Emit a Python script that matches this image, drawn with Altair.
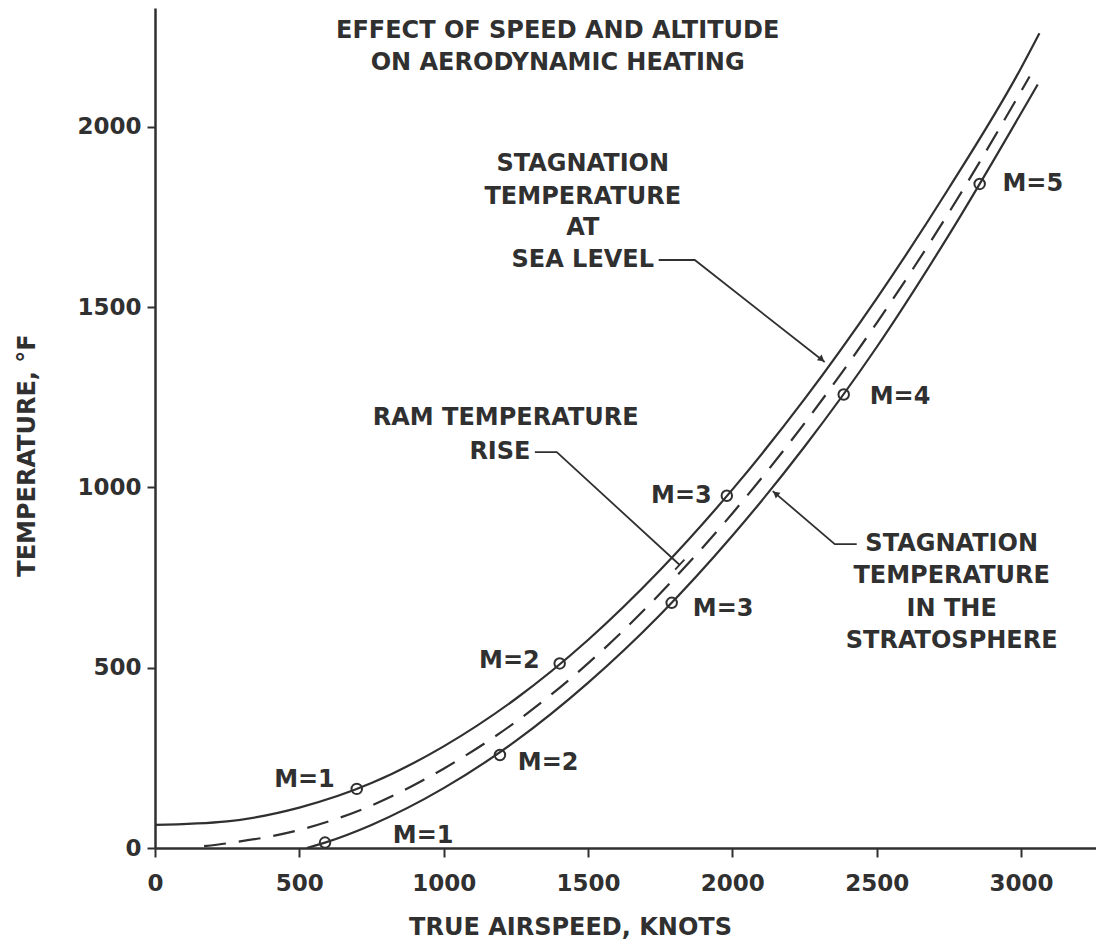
import altair as alt
import pandas as pd

# ---- data ----
sea_x = [0, 250, 500, 750, 1000, 1250, 1500, 1750, 2000, 2250, 2500, 2750, 3000, 3064]
sea_y = [64, 74, 112, 180, 282, 414, 577, 771, 994, 1245, 1524, 1830, 2163, 2260]

ram_x = [170, 250, 500, 750, 1000, 1250, 1500, 1750, 2000, 2250, 2500, 2750, 3030]
ram_y = [5, 13, 50, 118, 220, 350, 512, 706, 928, 1178, 1456, 1762, 2140]

strat_x = [526, 589, 750, 1000, 1250, 1500, 1750, 2000, 2250, 2500, 2750, 3058]
strat_y = [0, 15, 64, 166, 297, 458, 647, 866, 1113, 1389, 1700, 2118]

mach_x = [699, 1402, 1981, 589, 1195, 1790, 2386, 2857]
mach_y = [164, 512, 977, 15, 258, 680, 1258, 1842]

# Mach labels: right-aligned ones (left of the circle) and left-aligned ones
mlabR_text = ["M=1", "M=2", "M=3"]
mlabR_x = [623, 1333, 1929]
mlabR_y = [189, 519, 976]
mlabL_text = ["M=1", "M=2", "M=3", "M=4", "M=5"]
mlabL_x = [824, 1257, 1863, 2476, 2936]
mlabL_y = [33, 236, 663, 1251, 1842]

# annotation text lines (centered)
ann_text = ["EFFECT OF SPEED AND ALTITUDE", "ON AERODYNAMIC HEATING",
            "STAGNATION", "TEMPERATURE", "AT", "SEA LEVEL",
            "RAM TEMPERATURE", "RISE",
            "STAGNATION", "TEMPERATURE", "IN THE", "STRATOSPHERE"]
ann_x = [1395, 1395,
         1482, 1482, 1482, 1482,
         1215, 1195,
         2760, 2760, 2760, 2760]
ann_y = [2266, 2178,
         1898, 1806, 1720, 1631,
         1193, 1098,
         843, 755, 663, 574]

# leader lines
lead_sea_x = [1745, 1870, 2320]
lead_sea_y = [1631, 1631, 1348]
lead_ram_x = [1316, 1392, 1818]
lead_ram_y = [1098, 1098, 785]
lead_ram_bar_x = [1802, 1834]
lead_ram_bar_y = [772, 800]
lead_str_x = [2431, 2355, 2140]
lead_str_y = [843, 843, 990]
arrow_sea = (2310, 1355)
arrow_str = (2150, 983)

x_ticks = [0, 500, 1000, 1500, 2000, 2500, 3000]
y_ticks = [0, 500, 1000, 1500, 2000]

INK = "#303030"
FONT = "DejaVu Sans"

xs = alt.Scale(domain=[0, 3260], nice=False, zero=False)
ys = alt.Scale(domain=[0, 2330], nice=False, zero=False)

X = alt.X("x:Q", scale=xs, axis=alt.Axis(
    values=x_ticks, format="d", title="TRUE AIRSPEED, KNOTS", grid=False,
    labelFontSize=23, labelPadding=15, tickSize=9, tickWidth=2,
    domainWidth=2.5, domainColor=INK, tickColor=INK, labelColor=INK,
    titleColor=INK, labelFont=FONT, titleFont=FONT, labelFontWeight="bold",
    titleFontWeight="bold", titleFontSize=24, titleX=415, titleY=79,
    titleBaseline="middle", titleAlign="center", labelFlush=False))
Y = alt.Y("y:Q", scale=ys, axis=alt.Axis(
    values=y_ticks, format="d", title="TEMPERATURE, °F", grid=False,
    labelFontSize=23, labelPadding=6, tickSize=8, tickWidth=2,
    domainWidth=2.5, domainColor=INK, tickColor=INK, labelColor=INK,
    titleColor=INK, labelFont=FONT, titleFont=FONT, labelFontWeight="bold",
    titleFontWeight="bold", titleFontSize=24, titleX=-128, titleY=447,
    titleBaseline="middle", titleAlign="center", titleAngle=270,
    labelFlush=False))


def df(xv, yv, **extra):
    d = {"x": xv, "y": yv}
    d.update(extra)
    return pd.DataFrame(d)


sea = alt.Chart(df(sea_x, sea_y)).mark_line(
    color=INK, strokeWidth=2.2, interpolate="monotone").encode(x=X, y=Y)
ram = alt.Chart(df(ram_x, ram_y)).mark_line(
    color=INK, strokeWidth=2.2, strokeDash=[22, 13], interpolate="monotone").encode(x=X, y=Y)
strat = alt.Chart(df(strat_x, strat_y)).mark_line(
    color=INK, strokeWidth=2.2, interpolate="monotone").encode(x=X, y=Y)

mach = alt.Chart(df(mach_x, mach_y)).mark_point(
    shape="circle", filled=False, color=INK, size=110, strokeWidth=2, opacity=1).encode(x=X, y=Y)

txt_common = dict(font=FONT, fontWeight="bold", fontSize=24, color=INK, baseline="middle")
labR = alt.Chart(df(mlabR_x, mlabR_y, t=mlabR_text)).mark_text(align="right", **txt_common).encode(
    x=X, y=Y, text="t:N")
labL = alt.Chart(df(mlabL_x, mlabL_y, t=mlabL_text)).mark_text(align="left", **txt_common).encode(
    x=X, y=Y, text="t:N")
ann = alt.Chart(df(ann_x, ann_y, t=ann_text)).mark_text(align="center", **txt_common).encode(
    x=X, y=Y, text="t:N")

lead_kw = dict(color=INK, strokeWidth=1.8)
l1 = alt.Chart(df(lead_sea_x, lead_sea_y, o=[0, 1, 2])).mark_line(**lead_kw).encode(x=X, y=Y, order="o:Q")
l2 = alt.Chart(df(lead_ram_x, lead_ram_y, o=[0, 1, 2])).mark_line(**lead_kw).encode(x=X, y=Y, order="o:Q")
l2b = alt.Chart(df(lead_ram_bar_x, lead_ram_bar_y, o=[0, 1])).mark_line(**lead_kw).encode(x=X, y=Y, order="o:Q")
l3 = alt.Chart(df(lead_str_x, lead_str_y, o=[0, 1, 2])).mark_line(**lead_kw).encode(x=X, y=Y, order="o:Q")
a1 = alt.Chart(df([arrow_sea[0]], [arrow_sea[1]])).mark_point(
    shape="triangle-up", filled=True, color=INK, size=55, angle=129, opacity=1).encode(x=X, y=Y)
a2 = alt.Chart(df([arrow_str[0]], [arrow_str[1]])).mark_point(
    shape="triangle-up", filled=True, color=INK, size=55, angle=309, opacity=1).encode(x=X, y=Y)

chart = alt.layer(sea, ram, strat, mach, labR, labL, ann, l1, l2, l2b, l3, a1, a2).properties(
    width=941, height=840,
    autosize=alt.AutoSizeParams(type="none"),
    padding={"left": 147, "top": 0, "right": 0, "bottom": 94},
    background="white",
).configure_view(stroke=None)

chart.save("out.html", embed_options={"renderer": "svg", "actions": False})
